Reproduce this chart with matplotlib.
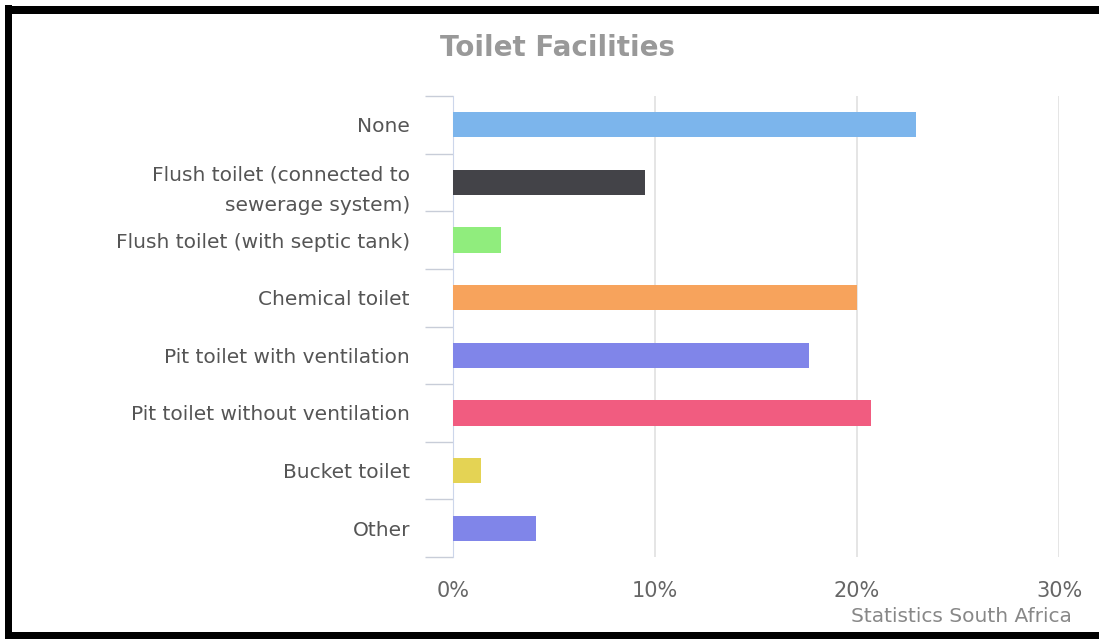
import matplotlib.pyplot as plt
from matplotlib.patches import Rectangle
import numpy as np

categories = [
    "None",
    "Flush toilet (connected to\nsewerage system)",
    "Flush toilet (with septic tank)",
    "Chemical toilet",
    "Pit toilet with ventilation",
    "Pit toilet without ventilation",
    "Bucket toilet",
    "Other",
]
shares = [22.9, 9.5, 2.4, 20.0, 17.6, 20.7, 1.4, 4.1]
bar_colors = ["#7cb5ec", "#434348", "#90ed7d", "#f7a35c",
              "#8085e9", "#f15c80", "#e4d354", "#8085e9"]
x_ticks = [0, 10, 20, 30]

W, H = 1099, 639
fig = plt.figure(figsize=(W / 100, H / 100), dpi=100)
ax = fig.add_axes([453 / W, 1 - 557 / H, (1059 - 453) / W, (557 - 96) / H])

y = np.arange(len(categories))
ax.barh(y, shares, height=0.44, color=bar_colors, zorder=3)

ax.set_xlim(0, 30)
ax.set_ylim(len(categories) - 0.5, -0.5)

ax.set_xticks(x_ticks)
ax.set_xticklabels([f"{t}%" for t in x_ticks], color="#666666", fontsize=15)
ax.tick_params(axis="x", length=0, pad=17)
ax.grid(axis="x", color="#e0e0e0", linewidth=1.2, zorder=0)

ax.set_yticks(y)
ax.set_yticklabels(categories, color="#555555", fontsize=14.5, linespacing=1.75)
ax.tick_params(axis="y", which="major", length=0, pad=31)
ax.set_yticks(np.arange(len(categories) + 1) - 0.5, minor=True)
ax.tick_params(axis="y", which="minor", length=20, color="#c8cdd8", width=1)

for side in ["top", "right", "bottom"]:
    ax.spines[side].set_visible(False)
ax.spines["left"].set_color("#ccd6eb")

fig.text(558 / W, 1 - 48 / H, "Toilet Facilities", ha="center", va="center",
         fontsize=20, fontweight="bold", color="#999999")
fig.text(1072 / W, 1 - 616 / H, "Statistics South Africa", ha="right", va="center",
         fontsize=14.5, color="#888888")

# black frame on left, top and bottom
frame = dict(transform=None, facecolor="black", edgecolor="none", zorder=10)
fig.patches.append(Rectangle((5, 0), 7, H - 5, **frame))
fig.patches.append(Rectangle((5, H - 14), W - 5, 8, **frame))
fig.patches.append(Rectangle((5, 0), W - 5, 7, **frame))

fig.savefig("out.png", dpi=100)
